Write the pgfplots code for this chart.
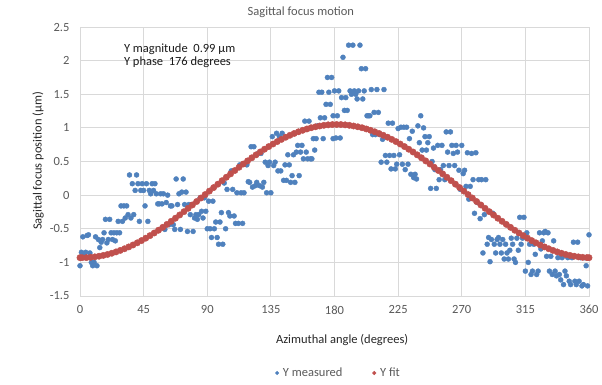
\documentclass[border=0pt]{standalone}
\usepackage{fontspec}
\setmainfont{Carlito}
\usepackage{pgfplots}
\pgfplotsset{compat=1.18}
\definecolor{ptblue}{HTML}{4F81BD}
\definecolor{ptred}{HTML}{C0504D}
\definecolor{txtgray}{HTML}{595959}
\definecolor{gridgray}{HTML}{D9D9D9}
\newcommand{\chartfont}{\fontsize{12.5}{14}\selectfont}
\begin{document}
\begin{tikzpicture}
\path[use as bounding box] (-80pt,-88pt) rectangle (522pt,296pt);
\begin{axis}[
  at={(0pt,0pt)}, anchor=south west,
  scale only axis, width=509pt, height=269pt,
  xmin=0, xmax=360, ymin=-1.5, ymax=2.5,
  xtick={0,45,90,135,180,225,270,315,360},
  ytick={-1.5,-1,-0.5,0,0.5,1,1.5,2,2.5},
  xticklabels={0,45,90,135,180,225,270,315,360},
  yticklabels={-1.5,-1,-0.5,0,0.5,1,1.5,2,2.5},
  major tick length=0pt,
  tick label style={font=\chartfont, text=txtgray},
  xticklabel style={yshift=-6pt},
  yticklabel style={xshift=-7pt},
  grid=major,
  major grid style={draw=gridgray, line width=0.8pt},
  axis line style={draw=gridgray, line width=0.8pt},
  clip=false,
  title={Sagittal focus motion},
  title style={font=\chartfont, text=txtgray, at={(axis description cs:0.434,1)}, anchor=center, yshift=9pt},
  xlabel={Azimuthal angle (degrees)},
  xlabel style={font=\chartfont, text=black!85, at={(axis description cs:0.515,0)}, anchor=center, yshift=-44pt},
  ylabel={Sagittal focus position (µm)},
  ylabel style={font=\chartfont, text=black!85, at={(axis description cs:-0.0825,0.502)}, anchor=center},
  legend style={at={(axis description cs:0.51,0)}, anchor=center, yshift=-77pt, draw=none, fill=none,
    font=\chartfont, text=txtgray, legend columns=2,
    nodes={inner xsep=4pt},
    /tikz/every even column/.append style={column sep=26pt}},
  legend cell align=left,
]
% Y measured
\addplot[only marks, mark=*, mark size=2.5pt, color=ptblue, legend image post style={mark size=1.8pt}] coordinates {
(0,-1.05) (1,-0.85) (2,-0.62) (3,-0.90) (4,-0.85) (5,-0.60) (6,-0.59) (7,-0.86) (8,-1.00) (9,-1.05)
(10,-1.00) (11,-0.62) (12,-1.05) (13,-0.66) (14,-0.78) (15,-0.70) (16,-0.66) (17,-0.56) (18,-0.36) (19,-0.71)
(20,-0.66) (21,-0.36) (22,-0.56) (23,-0.66) (24,-0.56) (25,-0.68) (26,-0.56) (27,-0.39) (28,-0.56) (29,-0.16)
(30,-0.39) (31,-0.16) (32,-0.34) (33,-0.16) (34,-0.29) (35,0.30) (36,-0.34) (37,0.17) (38,-0.29) (39,0.07)
(40,0.30) (41,0.17) (42,-0.39) (43,0.07) (44,0.17) (45,0.07) (46,-0.16) (47,0.17) (48,-0.39) (49,0.07)
(50,0.02) (51,0.17) (52,0.07) (53,0.17) (54,0.02) (55,-0.13) (56,-0.13) (57,0.02) (58,-0.13) (59,0.02)
(60,-0.51) (61,-0.11) (62,0.00) (63,-0.44) (64,-0.16) (65,-0.16) (66,-0.44) (67,-0.51) (68,0.24) (69,-0.14)
(70,0.02) (71,-0.51) (72,0.045) (73,0.24) (74,-0.14) (75,0.045) (76,-0.54) (77,-0.14) (78,-0.29) (79,-0.14)
(80,-0.54) (81,-0.34) (82,-0.29) (83,-0.36) (84,-0.29) (85,-0.04) (86,-0.24) (87,-0.34) (88,-0.04) (89,-0.24)
(90,-0.50) (91,-0.09) (92,-0.50) (93,-0.63) (94,-0.09) (95,-0.50) (96,-0.40) (97,-0.63) (98,-0.73) (99,-0.40)
(100,-0.26) (101,-0.73) (102,0.18) (103,-0.50) (104,0.085) (105,-0.26) (106,-0.31) (107,0.36) (108,0.085) (109,-0.31)
(110,-0.42) (111,0.035) (112,-0.42) (113,0.45) (114,0.035) (115,-0.42) (116,0.035) (117,0.46) (118,0.45) (119,0.20)
(120,0.19) (121,0.72) (122,0.12) (123,0.72) (124,0.14) (125,0.19) (126,0.62) (127,0.14) (128,0.62) (129,0.12)
(130,0.19) (131,0.49) (132,0.035) (133,0.44) (134,0.49) (135,0.035) (136,0.87) (137,0.44) (138,0.49) (139,0.92)
(140,0.36) (141,0.87) (142,0.36) (143,0.92) (144,0.22) (145,0.45) (146,0.22) (147,0.60) (148,0.45) (149,0.19)
(150,0.29) (151,0.60) (152,0.19) (153,0.64) (154,0.74) (155,0.29) (156,0.64) (157,0.74) (158,0.54) (159,1.10)
(160,0.64) (161,0.54) (162,1.10) (163,0.54) (164,0.54) (165,0.84) (166,0.67) (167,0.84) (168,1.03) (169,1.53)
(170,1.15) (171,1.53) (172,0.84) (173,1.15) (174,1.35) (175,1.75) (176,1.53) (177,1.35) (178,1.75) (179,0.84)
(179,1.18) (180,1.55) (181,0.85) (182,1.18) (183,1.55) (184,0.85) (185,1.45) (186,2.05) (187,1.26) (188,1.45) (189,1.26)
(190,2.23) (191,1.55) (192,1.50) (193,2.23) (194,1.55) (195,1.50) (196,1.43) (197,1.55) (198,2.23) (199,1.88)
(200,1.43) (201,1.55) (202,1.88) (203,1.18) (204,1.18) (205,1.18) (206,1.57) (207,0.90) (208,1.23) (209,0.90)
(210,1.57) (211,1.23) (212,0.90) (213,0.49) (214,0.83) (215,1.57) (216,0.59) (217,0.49) (218,1.07) (219,0.59)
(220,0.39) (221,1.07) (222,0.59) (223,0.39) (224,0.46) (225,0.99) (226,0.60) (227,1.01) (228,0.46) (229,1.01)
(230,0.38) (231,1.01) (232,0.46) (233,0.84) (234,0.31) (235,0.95) (236,0.26) (237,0.31) (238,0.24) (239,1.03)
(240,0.78) (241,1.18) (242,0.67) (243,1.00) (244,0.87) (245,0.67) (246,0.78) (247,0.87) (248,0.10) (249,0.50)
(250,0.70) (251,0.38) (252,0.10) (253,0.74) (254,0.23) (255,0.38) (256,0.74) (257,0.44) (258,0.23) (259,0.94)
(260,0.64) (261,0.44) (262,0.94) (263,0.74) (264,0.62) (265,0.44) (266,0.74) (267,0.64) (268,0.37) (269,0.085)
(270,0.74) (271,0.32) (272,0.37) (273,0.13) (274,0.63) (275,-0.06) (276,0.13) (277,0.62) (278,0.23) (279,-0.27)
(280,0.63) (281,-0.11) (282,0.23) (283,-0.35) (284,0.23) (285,-0.86) (286,-0.29) (287,0.23) (288,-0.73) (289,-0.63)
(290,-0.99) (291,-0.66) (292,-0.27) (293,-0.73) (294,-0.86) (295,-0.66) (296,-0.63) (297,-0.73) (298,-0.86) (299,-0.66)
(300,-0.95) (301,-0.73) (302,-0.86) (303,-0.95) (304,-0.82) (305,-0.64) (306,-0.73) (307,-0.95) (308,-1.00) (309,-0.64)
(310,-0.82) (311,-0.33) (312,-0.73) (313,-0.64) (314,-0.33) (315,-1.13) (316,-0.56) (317,-1.00) (318,-0.73) (319,-1.18)
(320,-1.13) (321,-0.73) (322,-0.88) (323,-1.18) (324,-1.13) (325,-0.56) (326,-0.80) (327,-0.68) (328,-0.56) (329,-0.54)
(330,-0.91) (331,-0.56) (332,-1.13) (333,-0.91) (334,-1.18) (335,-0.68) (336,-1.13) (337,-1.20) (338,-0.93) (339,-1.18)
(340,-1.26) (341,-0.93) (342,-1.33) (343,-1.13) (344,-1.20) (345,-0.93) (346,-1.28) (347,-1.33) (348,-0.93) (349,-0.70)
(350,-1.28) (351,-1.33) (352,-0.70) (353,-1.28) (354,-0.93) (355,-1.35) (356,-1.33) (357,-0.93) (358,-1.05) (359,-1.35)
(360,-0.59)
};
\addlegendentry{Y measured}
% Y fit
\addplot[only marks, mark=*, mark size=3.2pt, color=ptred, legend image post style={mark size=1.8pt}] coordinates {
(0,-0.930) (1.5,-0.930) (4.5,-0.929) (7.5,-0.925) (10.5,-0.918) (13.5,-0.908) (16.5,-0.896) (19.5,-0.882)
(22.5,-0.864) (25.5,-0.844) (28.5,-0.822) (31.5,-0.797) (34.5,-0.770) (37.5,-0.741) (40.5,-0.709) (43.5,-0.676)
(46.5,-0.640) (49.5,-0.602) (52.5,-0.563) (55.5,-0.522) (58.5,-0.479) (61.5,-0.435) (64.5,-0.389) (67.5,-0.343)
(70.5,-0.295) (73.5,-0.246) (76.5,-0.196) (79.5,-0.146) (82.5,-0.095) (85.5,-0.043) (88.5,0.008) (91.5,0.060)
(94.5,0.112) (97.5,0.163) (100.5,0.215) (103.5,0.266) (106.5,0.316) (109.5,0.366) (112.5,0.415) (115.5,0.463)
(118.5,0.509) (121.5,0.555) (124.5,0.599) (127.5,0.642) (130.5,0.683) (133.5,0.722) (136.5,0.760) (139.5,0.796)
(142.5,0.829) (145.5,0.861) (148.5,0.890) (151.5,0.917) (154.5,0.942) (157.5,0.964) (160.5,0.984) (163.5,1.002)
(166.5,1.016) (169.5,1.028) (172.5,1.038) (175.5,1.045) (178.5,1.049) (181.5,1.050) (184.5,1.049) (187.5,1.045)
(190.5,1.038) (193.5,1.028) (196.5,1.016) (199.5,1.002) (202.5,0.984) (205.5,0.964) (208.5,0.942) (211.5,0.917)
(214.5,0.890) (217.5,0.861) (220.5,0.829) (223.5,0.796) (226.5,0.760) (229.5,0.722) (232.5,0.683) (235.5,0.642)
(238.5,0.599) (241.5,0.555) (244.5,0.509) (247.5,0.463) (250.5,0.415) (253.5,0.366) (256.5,0.316) (259.5,0.266)
(262.5,0.215) (265.5,0.163) (268.5,0.112) (271.5,0.060) (274.5,0.008) (277.5,-0.043) (280.5,-0.095) (283.5,-0.146)
(286.5,-0.196) (289.5,-0.246) (292.5,-0.295) (295.5,-0.343) (298.5,-0.389) (301.5,-0.435) (304.5,-0.479) (307.5,-0.522)
(310.5,-0.563) (313.5,-0.602) (316.5,-0.640) (319.5,-0.676) (322.5,-0.709) (325.5,-0.741) (328.5,-0.770) (331.5,-0.797)
(334.5,-0.822) (337.5,-0.844) (340.5,-0.864) (343.5,-0.882) (346.5,-0.896) (349.5,-0.908) (352.5,-0.918) (355.5,-0.925)
(358.5,-0.929) (360,-0.930)
};
\addlegendentry{Y fit}
\node[anchor=west, font=\chartfont, text=black!90, inner sep=0pt] at (axis cs:31,2.17) {Y magnitude\ \ 0.99 µm};
\node[anchor=west, font=\chartfont, text=black!90, inner sep=0pt] at (axis cs:31,1.975) {Y phase\ \ 176 degrees};
\end{axis}
\end{tikzpicture}
\end{document}
